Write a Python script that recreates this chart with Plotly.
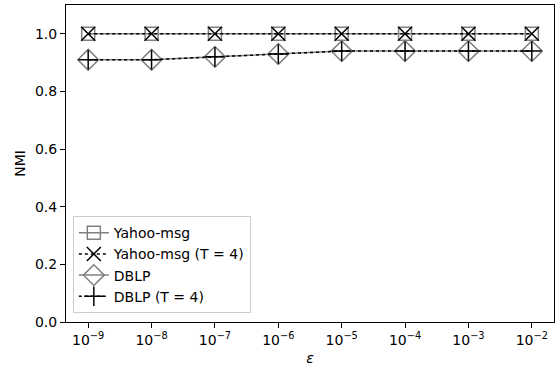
import plotly.graph_objects as go

eps = [1e-9, 1e-8, 1e-7, 1e-6, 1e-5, 1e-4, 1e-3, 1e-2]
yahoo = [1.0, 1.0, 1.0, 1.0, 1.0, 1.0, 1.0, 1.0]
yahoo_t4 = [1.0, 1.0, 1.0, 1.0, 1.0, 1.0, 1.0, 1.0]
dblp = [0.91, 0.91, 0.92, 0.93, 0.94, 0.94, 0.94, 0.94]
dblp_t4 = [0.91, 0.91, 0.92, 0.93, 0.94, 0.94, 0.94, 0.94]
tick_vals = [1e-9, 1e-8, 1e-7, 1e-6, 1e-5, 1e-4, 1e-3, 1e-2]
tick_text = ["10<sup>−9</sup>", "10<sup>−8</sup>", "10<sup>−7</sup>", "10<sup>−6</sup>",
             "10<sup>−5</sup>", "10<sup>−4</sup>", "10<sup>−3</sup>", "10<sup>−2</sup>"]

gray = "#808080"
fig = go.Figure()
fig.add_trace(go.Scatter(x=eps, y=yahoo, name="Yahoo-msg", mode="lines+markers",
                         line=dict(color=gray, width=1.5),
                         marker=dict(symbol="square-open", size=13, color=gray, line=dict(width=1.5, color=gray))))
fig.add_trace(go.Scatter(x=eps, y=yahoo_t4, name="Yahoo-msg (T = 4)", mode="lines+markers",
                         line=dict(color="black", width=1.5, dash="dot"),
                         marker=dict(symbol="x-thin-open", size=14, color="black", line=dict(width=1.5, color="black"))))
fig.add_trace(go.Scatter(x=eps, y=dblp, name="DBLP", mode="lines+markers",
                         line=dict(color=gray, width=1.5),
                         marker=dict(symbol="diamond-open", size=16, color=gray, line=dict(width=1.5, color=gray))))
fig.add_trace(go.Scatter(x=eps, y=dblp_t4, name="DBLP (T = 4)", mode="lines+markers",
                         line=dict(color="black", width=1.5, dash="dot"),
                         marker=dict(symbol="cross-thin-open", size=14, color="black", line=dict(width=1.5, color="black"))))

fig.update_layout(
    width=557, height=371,
    margin=dict(l=66, r=3, t=5, b=49),
    paper_bgcolor="white", plot_bgcolor="white",
    font=dict(family="DejaVu Sans", size=14, color="black"),
    showlegend=True,
    legend=dict(x=0.014, y=0.028, xanchor="left", yanchor="bottom",
                bgcolor="rgba(255,255,255,0.8)", bordercolor="#cccccc", borderwidth=1,
                font=dict(size=14), tracegroupgap=0, itemwidth=30),
)
fig.update_xaxes(type="log", range=[-9.35, -1.65], tickvals=tick_vals, ticktext=tick_text,
                 showgrid=False, zeroline=False, showline=True, linecolor="black", linewidth=1,
                 mirror=True, ticks="outside", ticklen=5, tickcolor="black",
                 title=dict(text="<i>ε</i>", standoff=6, font=dict(size=14)))
fig.update_yaxes(range=[0, 1.1], tickvals=[0, 0.2, 0.4, 0.6, 0.8, 1.0],
                 ticktext=["0.0", "0.2", "0.4", "0.6", "0.8", "1.0"],
                 showgrid=False, zeroline=False, showline=True, linecolor="black", linewidth=1,
                 mirror=True, ticks="outside", ticklen=5, tickcolor="black",
                 title=dict(text="NMI", standoff=6, font=dict(size=14)))

fig.write_html("out.html")
